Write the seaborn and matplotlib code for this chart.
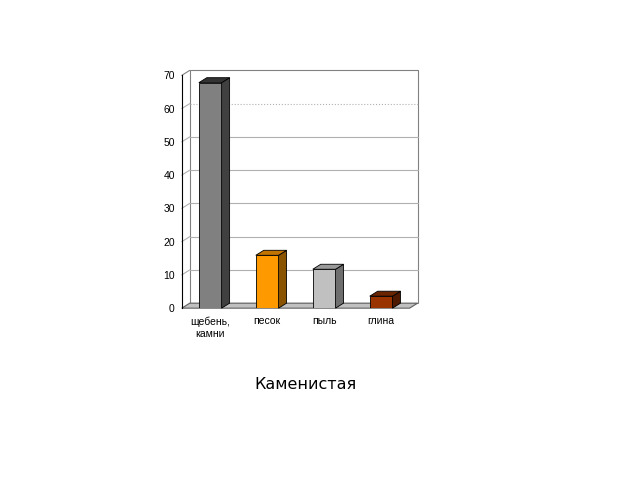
import numpy as np
import matplotlib
matplotlib.use('Agg')
import matplotlib.pyplot as plt
import seaborn as sns
from matplotlib.patches import Polygon

# данные
categories = ['щебень,\nкамни', 'песок', 'пыль', 'глина']
values = [67.8, 15.9, 11.7, 3.6]
front_colors = ['#808080', '#ff9900', '#c0c0c0', '#993300']
side_colors = ['#404040', '#8a5300', '#6e6e6e', '#4d1900']
top_colors = ['#333333', '#c27400', '#9a9a9a', '#6b2400']
y_ticks = [0, 10, 20, 30, 40, 50, 60, 70]
title = 'Каменистая'

sns.set_style('white')
plt.rcParams['font.family'] = ['Liberation Sans', 'DejaVu Sans']

fig = plt.figure(figsize=(6.4, 4.8), dpi=100)
ax = fig.add_axes([0.284, 0.358, 0.356, 0.485])

# глубина псевдо-3D
dx, dy = 0.14, 1.5

# задняя стенка и сетка
wall = Polygon([(-0.5 + dx, dy), (3.5 + dx, dy), (3.5 + dx, 70 + dy), (-0.5 + dx, 70 + dy)],
               closed=True, facecolor='white', edgecolor='#808080', lw=0.8, zorder=0, clip_on=False)
ax.add_patch(wall)
for t in y_ticks[1:-1]:
    ls = ':' if t == 60 else '-'
    ax.plot([-0.5 + dx, 3.5 + dx], [t + dy, t + dy], color='#b0b0b0', lw=0.8, ls=ls, zorder=0.5, clip_on=False)
# левая стенка
ax.plot([-0.5, -0.5 + dx], [70, 70 + dy], color='#808080', lw=0.8, clip_on=False, zorder=0.5)
for t in y_ticks[1:-1]:
    ax.plot([-0.5, -0.5 + dx], [t, t + dy], color='#b0b0b0', lw=0.8, clip_on=False, zorder=0.5)

# пол
floor = Polygon([(-0.5, 0), (3.5, 0), (3.5 + dx, dy), (-0.5 + dx, dy)], closed=True,
                facecolor='#c0c0c0', edgecolor='#606060', lw=0.8, zorder=1, clip_on=False)
ax.add_patch(floor)

sns.barplot(x=categories, y=values, hue=categories, palette=front_colors, legend=False,
            width=0.4, edgecolor='black', linewidth=0.6, saturation=1, ax=ax, zorder=3)

for p in list(ax.patches):
    if p is wall or p is floor or p.get_height() <= 0:
        continue
    x0 = p.get_x()
    w = p.get_width()
    h = p.get_height()
    idx = int(round(x0 + w / 2))
    side = Polygon([(x0 + w, 0), (x0 + w + dx, dy), (x0 + w + dx, h + dy), (x0 + w, h)], closed=True,
                   facecolor=side_colors[idx], edgecolor='black', lw=0.6, zorder=3, clip_on=False)
    top = Polygon([(x0, h), (x0 + dx, h + dy), (x0 + w + dx, h + dy), (x0 + w, h)], closed=True,
                  facecolor=top_colors[idx], edgecolor='black', lw=0.6, zorder=3, clip_on=False)
    ax.add_patch(side)
    ax.add_patch(top)

ax.set_xlim(-0.5, 3.5)
ax.set_ylim(0, 70)
ax.set_yticks(y_ticks)
ax.tick_params(axis='y', direction='out', length=3, width=0.8, labelsize=7.5, pad=2, colors='black')
ax.tick_params(axis='x', length=0, labelsize=7.5, pad=6, colors='black')
ax.set_xticks(np.arange(-0.5, 4.0, 1.0), minor=True)
ax.tick_params(axis='x', which='minor', direction='out', length=3, width=0.8, color='#606060')
for s in ['top', 'right', 'bottom']:
    ax.spines[s].set_visible(False)
ax.spines['left'].set_color('black')
ax.spines['left'].set_linewidth(0.8)
ax.set_xlabel('')
ax.set_ylabel('')

fig.text(0.477, 0.198, title, ha='center', va='center', fontsize=11.5,
         family=['DejaVu Sans'], color='black')

fig.savefig('out.png', dpi=100)
